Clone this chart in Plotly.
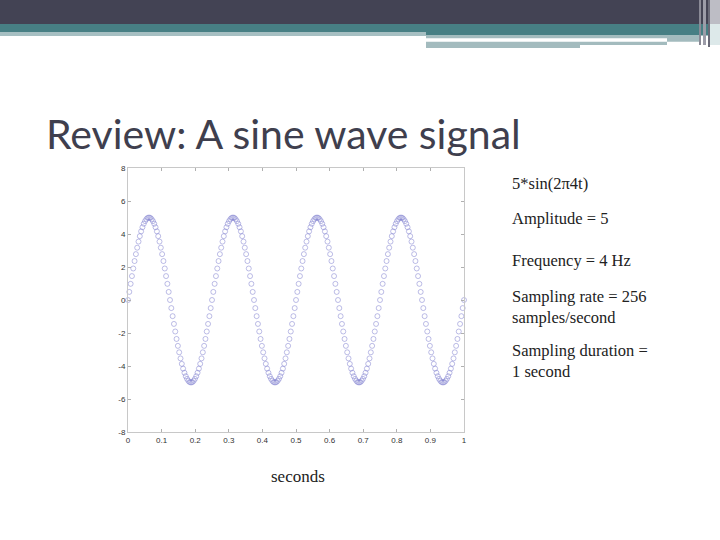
import plotly.graph_objects as go

# ---- data ----
SAMPLING_RATE = 256  # samples/second (from the slide text)
signal = [
    0.00, 0.49, 0.98, 1.45, 1.91, 2.36, 2.78, 3.17, 3.54, 3.87, 4.16, 4.41, 4.62, 4.78, 4.90, 4.98,
    5.00, 4.98, 4.90, 4.78, 4.62, 4.41, 4.16, 3.87, 3.54, 3.17, 2.78, 2.36, 1.91, 1.45, 0.98, 0.49,
    0.00, -0.49, -0.98, -1.45, -1.91, -2.36, -2.78, -3.17, -3.54, -3.87, -4.16, -4.41, -4.62, -4.78, -4.90, -4.98,
    -5.00, -4.98, -4.90, -4.78, -4.62, -4.41, -4.16, -3.87, -3.54, -3.17, -2.78, -2.36, -1.91, -1.45, -0.98, -0.49,
    0.00, 0.49, 0.98, 1.45, 1.91, 2.36, 2.78, 3.17, 3.54, 3.87, 4.16, 4.41, 4.62, 4.78, 4.90, 4.98,
    5.00, 4.98, 4.90, 4.78, 4.62, 4.41, 4.16, 3.87, 3.54, 3.17, 2.78, 2.36, 1.91, 1.45, 0.98, 0.49,
    0.00, -0.49, -0.98, -1.45, -1.91, -2.36, -2.78, -3.17, -3.54, -3.87, -4.16, -4.41, -4.62, -4.78, -4.90, -4.98,
    -5.00, -4.98, -4.90, -4.78, -4.62, -4.41, -4.16, -3.87, -3.54, -3.17, -2.78, -2.36, -1.91, -1.45, -0.98, -0.49,
    0.00, 0.49, 0.98, 1.45, 1.91, 2.36, 2.78, 3.17, 3.54, 3.87, 4.16, 4.41, 4.62, 4.78, 4.90, 4.98,
    5.00, 4.98, 4.90, 4.78, 4.62, 4.41, 4.16, 3.87, 3.54, 3.17, 2.78, 2.36, 1.91, 1.45, 0.98, 0.49,
    0.00, -0.49, -0.98, -1.45, -1.91, -2.36, -2.78, -3.17, -3.54, -3.87, -4.16, -4.41, -4.62, -4.78, -4.90, -4.98,
    -5.00, -4.98, -4.90, -4.78, -4.62, -4.41, -4.16, -3.87, -3.54, -3.17, -2.78, -2.36, -1.91, -1.45, -0.98, -0.49,
    0.00, 0.49, 0.98, 1.45, 1.91, 2.36, 2.78, 3.17, 3.54, 3.87, 4.16, 4.41, 4.62, 4.78, 4.90, 4.98,
    5.00, 4.98, 4.90, 4.78, 4.62, 4.41, 4.16, 3.87, 3.54, 3.17, 2.78, 2.36, 1.91, 1.45, 0.98, 0.49,
    0.00, -0.49, -0.98, -1.45, -1.91, -2.36, -2.78, -3.17, -3.54, -3.87, -4.16, -4.41, -4.62, -4.78, -4.90, -4.98,
    -5.00, -4.98, -4.90, -4.78, -4.62, -4.41, -4.16, -3.87, -3.54, -3.17, -2.78, -2.36, -1.91, -1.45, -0.98, -0.49,
    0.00,
]
sample_times = [n / SAMPLING_RATE for n in range(len(signal))]

x_ticks = [0, 0.1, 0.2, 0.3, 0.4, 0.5, 0.6, 0.7, 0.8, 0.9, 1]
x_tick_labels = ["0", "0.1", "0.2", "0.3", "0.4", "0.5", "0.6", "0.7", "0.8", "0.9", "1"]
y_ticks = [-8, -6, -4, -2, 0, 2, 4, 6, 8]
y_tick_labels = ["-8", "-6", "-4", "-2", "0", "2", "4", "6", "8"]

title_text = "Review: A sine wave signal"
notes = [
    ("5*sin(2\u03c04t)", 183),
    ("Amplitude = 5", 218),
    ("Frequency = 4 Hz", 260),
    ("Sampling rate = 256<br>samples/second", 307),
    ("Sampling duration =<br>1 second", 361),
]
xlabel = "seconds"

# ---- layout geometry (pixels) ----
W, H = 720, 540
L, R, T, B = 128, 464, 168, 432


def px(x):
    return (x - L) / (R - L)


def py(y):
    return (B - y) / (B - T)


fig = go.Figure()
fig.add_trace(go.Scatter(
    x=sample_times, y=signal, mode="markers",
    marker=dict(symbol="circle-open", size=5, color="rgba(120,120,205,0.55)",
                line=dict(width=0.9)),
    cliponaxis=False, showlegend=False, hoverinfo="x+y",
))

shapes = []


def rect(x0, y0, x1, y1, color):
    shapes.append(dict(type="rect", xref="paper", yref="paper",
                       x0=px(x0), x1=px(x1), y0=py(y1), y1=py(y0),
                       fillcolor=color, line=dict(width=0), layer="above"))


# header bands
rect(0, 0, 720, 24, "#434354")
rect(0, 24, 720, 32, "#477f84")
rect(426, 32, 720, 35.5, "#477f84")
rect(0, 32, 426, 36, "#a6bfc2")
rect(426, 35.5, 700, 48, "#a3bbbe")
rect(426, 38.3, 667, 41.7, "#ffffff")
rect(580, 45, 700, 48.5, "#ffffff")
rect(667, 41.7, 700, 48.5, "#ffffff")
# right-edge vertical accents
rect(699, 0, 701, 45, "#8a8a96")
rect(703, 0, 706, 45, "#9c9ca8")
rect(708, 0, 710, 47, "#6a6a78")
rect(710, 0, 720, 24, "#bdbdc5")
rect(710, 24, 720, 45, "#dde9ea")

annotations = [
    dict(text=title_text, x=px(44), y=py(133), xref="paper", yref="paper",
         xanchor="left", yanchor="middle", showarrow=False,
         font=dict(family="Lato", size=41, color="#3f3f4e")),
    dict(text=xlabel, x=px(298), y=py(476), xref="paper", yref="paper",
         xanchor="center", yanchor="middle", showarrow=False,
         font=dict(family="Liberation Serif", size=17, color="#222222")),
]
for txt, yc in notes:
    annotations.append(dict(text=txt, x=px(510), y=py(yc), xref="paper", yref="paper",
                            xanchor="left", yanchor="middle", align="left", showarrow=False,
                            font=dict(family="Liberation Serif", size=16.5, color="#222222")))

axis_common = dict(showgrid=False, zeroline=False, showline=True, linecolor="#c8c8c8",
                   linewidth=1, mirror="ticks", ticks="inside", ticklen=3, tickcolor="#b0b0b0",
                   tickfont=dict(family="Liberation Sans", size=8, color="#333333"))

fig.update_layout(
    width=W, height=H,
    margin=dict(l=L, r=W - R, t=T, b=H - B, pad=0),
    paper_bgcolor="white", plot_bgcolor="white",
    xaxis=dict(range=[0, 1], tickvals=x_ticks, ticktext=x_tick_labels, **axis_common),
    yaxis=dict(range=[-8, 8], tickvals=y_ticks, ticktext=y_tick_labels, **axis_common),
    shapes=shapes, annotations=annotations,
)

fig.write_html("out.html", config={"displayModeBar": False},
               post_script="document.body.style.margin='0';")
